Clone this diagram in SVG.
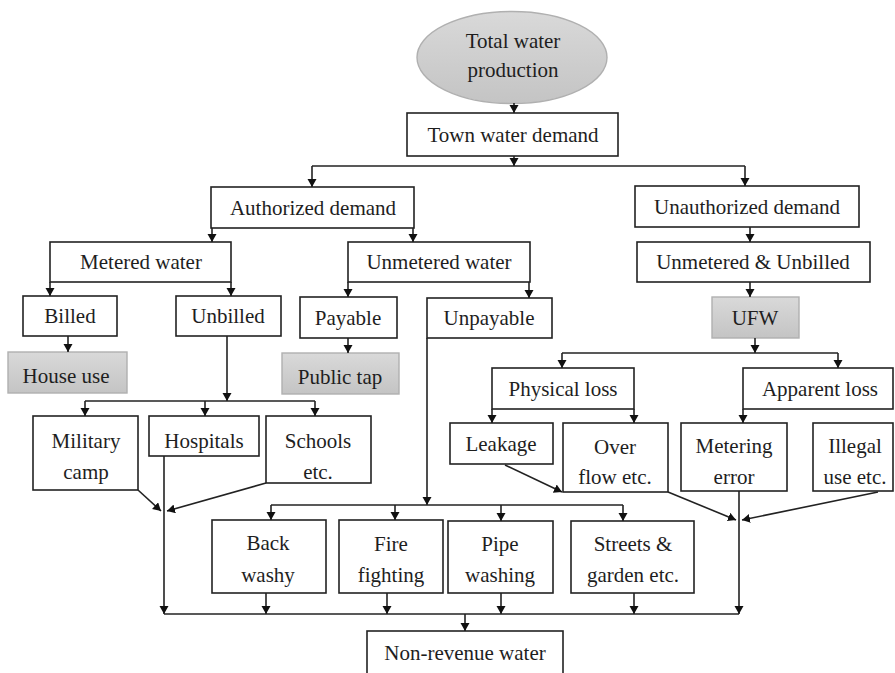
<svg xmlns="http://www.w3.org/2000/svg" width="895" height="673" viewBox="0 0 895 673">
<style>
.box{fill:#fff;stroke:#222;stroke-width:1.6}
.gbox{fill:url(#g);stroke:#b0b0b0;stroke-width:1.4}
text{font-family:'Liberation Serif','Times New Roman','DejaVu Serif',serif;font-size:21px;fill:#1e1e1e;text-anchor:middle}
.c path{fill:none;stroke:#222;stroke-width:1.6}
.c .a{marker-end:url(#ah)}
</style>
<defs>
<linearGradient id="g" x1="0" y1="0" x2="0" y2="1">
<stop offset="0" stop-color="#d9d9d9"/>
<stop offset="1" stop-color="#c4c4c4"/>
</linearGradient>
<marker id="ah" markerUnits="userSpaceOnUse" markerWidth="10" markerHeight="10" refX="8" refY="4.5" orient="auto">
<path d="M0,0 L8,4.5 L0,9 z" fill="#111"/>
</marker>
</defs>
<rect width="895" height="673" fill="#fff"/>

<g id="total-water-production" font-family="Liberation Serif, serif">
<ellipse cx="512" cy="57.5" rx="95" ry="46" fill="url(#g)" stroke="#b0b0b0" stroke-width="1.4"/>
<text x="513" y="48">Total water</text>
<text x="513" y="77">production</text>
</g>
<g id="town-water-demand"><rect class="box" x="407" y="113" width="211" height="43"/><text x="513" y="142">Town water demand</text></g>
<g id="authorized-demand"><rect class="box" x="211" y="187" width="203" height="41"/><text x="313" y="215">Authorized demand</text></g>
<g id="unauthorized-demand"><rect class="box" x="635" y="186" width="224" height="41"/><text x="747" y="214">Unauthorized demand</text></g>
<g id="metered-water"><rect class="box" x="50" y="242" width="181" height="40"/><text x="141" y="269">Metered water</text></g>
<g id="unmetered-water"><rect class="box" x="348" y="242" width="182" height="40"/><text x="439" y="269">Unmetered water</text></g>
<g id="unmetered-unbilled"><rect class="box" x="637" y="242" width="233" height="40"/><text x="753" y="269">Unmetered &amp; Unbilled</text></g>
<g id="billed"><rect class="box" x="23" y="296" width="94" height="40"/><text x="70" y="323">Billed</text></g>
<g id="unbilled"><rect class="box" x="176" y="296" width="105" height="40"/><text x="228" y="323">Unbilled</text></g>
<g id="payable"><rect class="box" x="300" y="297" width="97" height="41"/><text x="348" y="325">Payable</text></g>
<g id="unpayable"><rect class="box" x="427" y="298" width="125" height="40"/><text x="489" y="325">Unpayable</text></g>
<g id="ufw"><rect class="gbox" x="712" y="297" width="87" height="41"/><text x="755" y="325">UFW</text></g>
<g id="house-use"><rect class="gbox" x="8" y="352" width="119" height="41"/><text x="66" y="383">House use</text></g>
<g id="public-tap"><rect class="gbox" x="282" y="353" width="117" height="41"/><text x="340" y="384">Public tap</text></g>
<g id="physical-loss"><rect class="box" x="492" y="368" width="142" height="41"/><text x="563" y="396">Physical loss</text></g>
<g id="apparent-loss"><rect class="box" x="743" y="368" width="150" height="41"/><text x="820" y="396">Apparent loss</text></g>
<g id="military-camp"><rect class="box" x="33" y="416" width="105" height="74"/><text x="86" y="448">Military</text><text x="86" y="479">camp</text></g>
<g id="hospitals"><rect class="box" x="149" y="416" width="110" height="40"/><text x="204" y="448">Hospitals</text></g>
<g id="schools"><rect class="box" x="266" y="416" width="105" height="67"/><text x="318" y="448">Schools</text><text x="318" y="479">etc.</text></g>
<g id="leakage"><rect class="box" x="450" y="423" width="103" height="41"/><text x="501" y="451">Leakage</text></g>
<g id="over-flow"><rect class="box" x="563" y="423" width="105" height="69"/><text x="615" y="454">Over</text><text x="615" y="484">flow etc.</text></g>
<g id="metering-error"><rect class="box" x="681" y="423" width="106" height="68"/><text x="734" y="453">Metering</text><text x="734" y="484">error</text></g>
<g id="illegal-use"><rect class="box" x="813" y="423" width="80" height="68"/><text x="855" y="453">Illegal</text><text x="855" y="484">use etc.</text></g>
<g id="back-washy"><rect class="box" x="212" y="520" width="114" height="73"/><text x="268" y="550">Back</text><text x="268" y="582">washy</text></g>
<g id="fire-fighting"><rect class="box" x="339" y="520" width="104" height="73"/><text x="391" y="551">Fire</text><text x="391" y="582">fighting</text></g>
<g id="pipe-washing"><rect class="box" x="448" y="521" width="105" height="72"/><text x="500" y="551">Pipe</text><text x="500" y="582">washing</text></g>
<g id="streets-garden"><rect class="box" x="571" y="521" width="123" height="72"/><text x="633" y="551">Streets &amp;</text><text x="633" y="582">garden etc.</text></g>
<g id="non-revenue-water"><rect class="box" x="367" y="631" width="196" height="50"/><text x="465" y="660">Non-revenue water</text></g>

<g id="connectors" class="c">
<path class="a" d="M514,103 V113"/>
<path class="a" d="M514,156 V166"/>
<path d="M312,166 H745"/>
<path class="a" d="M312,166 V187"/>
<path class="a" d="M745,166 V186"/>
<path class="a" d="M212,228 V242"/>
<path class="a" d="M413,228 V242"/>
<path class="a" d="M750,227 V242"/>
<path class="a" d="M50,282 V296"/>
<path class="a" d="M231,282 V296"/>
<path class="a" d="M348,282 V297"/>
<path class="a" d="M529,282 V298"/>
<path class="a" d="M750,282 V297"/>
<path class="a" d="M68,336 V352"/>
<path class="a" d="M348,338 V353"/>
<path class="a" d="M755,338 V353"/>
<path d="M562,353 H838"/>
<path class="a" d="M562,353 V368"/>
<path class="a" d="M838,353 V368"/>
<path class="a" d="M492,409 V423"/>
<path class="a" d="M634,409 V423"/>
<path class="a" d="M743,409 V423"/>
<path class="a" d="M227,336 V401"/>
<path d="M85,401 H315"/>
<path class="a" d="M85,401 V416"/>
<path class="a" d="M205,401 V416"/>
<path class="a" d="M315,401 V416"/>
<path class="a" d="M138,490 L161,511"/>
<path class="a" d="M266,483 L167,511"/>
<path class="a" d="M164,456 V614"/>
<path class="a" d="M427,338 V505"/>
<path d="M271,505 H623"/>
<path class="a" d="M271,505 V520"/>
<path class="a" d="M395,505 V520"/>
<path class="a" d="M501,505 V521"/>
<path class="a" d="M623,505 V521"/>
<path class="a" d="M266,593 V614"/>
<path class="a" d="M387,593 V614"/>
<path class="a" d="M501,593 V614"/>
<path class="a" d="M634,593 V614"/>
<path d="M164,614 H739"/>
<path class="a" d="M739,491 V614"/>
<path class="a" d="M668,492 L736,520"/>
<path class="a" d="M878,492 L742,520"/>
<path class="a" d="M505,465 L562,492"/>
<path class="a" d="M465,614 V631"/>
</g>
</svg>
